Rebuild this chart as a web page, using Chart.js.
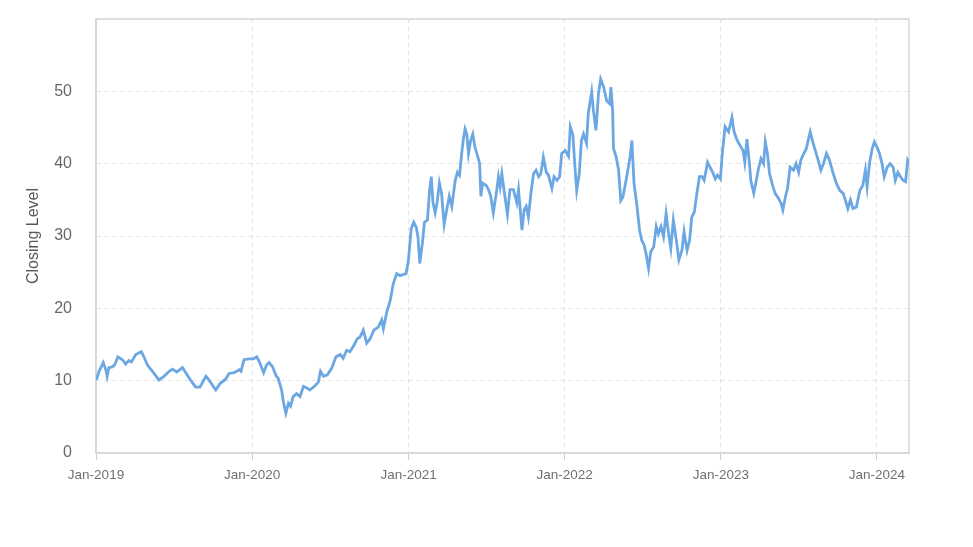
<!DOCTYPE html>
<html>
<head>
<meta charset="utf-8">
<script src="https://cdn.jsdelivr.net/npm/chart.js"></script>
<style>
  body { margin: 0; background: #fff; }
  #wrap { width: 973px; height: 547px; }
</style>
</head>
<body>
<div id="wrap"><canvas id="grafico" width="973" height="547"></canvas></div>
<script>
// datas de fechamento e nivel correspondente
const dates = [
  '2019-01-02','2019-01-08','2019-01-18','2019-01-24','2019-01-27','2019-01-31','2019-02-08','2019-02-14','2019-02-21','2019-03-04',
  '2019-03-11','2019-03-19','2019-03-25','2019-04-04','2019-04-17','2019-04-23','2019-05-01','2019-05-13','2019-05-28','2019-06-09',
  '2019-06-21','2019-06-29','2019-07-09','2019-07-22','2019-07-30','2019-08-11','2019-08-22','2019-09-01','2019-09-15','2019-09-22',
  '2019-10-08','2019-10-18','2019-10-31','2019-11-08','2019-11-20','2019-12-02','2019-12-06','2019-12-13','2019-12-25',
  '2020-01-04','2020-01-12','2020-01-18','2020-01-28','2020-02-04','2020-02-10','2020-02-18','2020-02-26','2020-03-02','2020-03-10',
  '2020-03-14','2020-03-20','2020-03-26','2020-03-31','2020-04-06','2020-04-14','2020-04-22','2020-04-30','2020-05-08','2020-05-15',
  '2020-05-27','2020-06-04','2020-06-09','2020-06-16','2020-06-25','2020-07-05','2020-07-15','2020-07-25','2020-08-01','2020-08-09',
  '2020-08-17','2020-08-26','2020-09-03','2020-09-09','2020-09-17','2020-09-25','2020-10-03','2020-10-12','2020-10-22','2020-10-30',
  '2020-11-03','2020-11-11','2020-11-19','2020-11-26','2020-12-04','2020-12-12','2020-12-20','2020-12-26','2020-12-31',
  '2021-01-02','2021-01-07','2021-01-13','2021-01-19','2021-01-23','2021-01-27','2021-02-02','2021-02-07','2021-02-14','2021-02-19',
  '2021-02-23','2021-02-27','2021-03-04','2021-03-09','2021-03-14','2021-03-19','2021-03-25','2021-03-31','2021-04-06','2021-04-12',
  '2021-04-16','2021-04-20','2021-04-25','2021-04-30','2021-05-05','2021-05-09','2021-05-13','2021-05-17','2021-05-21','2021-05-26',
  '2021-05-31','2021-06-05','2021-06-12','2021-06-16','2021-06-19','2021-06-23','2021-07-01','2021-07-07','2021-07-12','2021-07-18',
  '2021-07-25','2021-07-30','2021-08-03','2021-08-07','2021-08-12','2021-08-20','2021-08-26','2021-09-03','2021-09-11','2021-09-15',
  '2021-09-23','2021-09-28','2021-10-03','2021-10-08','2021-10-14','2021-10-20','2021-10-26','2021-11-01','2021-11-06','2021-11-12',
  '2021-11-19','2021-11-24','2021-12-02','2021-12-07','2021-12-14','2021-12-20','2021-12-25',
  '2022-01-02','2022-01-10','2022-01-14','2022-01-20','2022-01-25','2022-01-29','2022-02-04','2022-02-09','2022-02-14','2022-02-21',
  '2022-02-25','2022-03-05','2022-03-09','2022-03-15','2022-03-21','2022-03-26','2022-04-02','2022-04-09','2022-04-16','2022-04-19',
  '2022-04-23','2022-04-25','2022-05-01','2022-05-07','2022-05-12','2022-05-17','2022-05-26','2022-06-03','2022-06-07','2022-06-12',
  '2022-06-19','2022-06-25','2022-06-30','2022-07-06','2022-07-10','2022-07-16','2022-07-21','2022-07-28','2022-08-03','2022-08-08',
  '2022-08-14','2022-08-20','2022-08-26','2022-09-01','2022-09-06','2022-09-12','2022-09-19','2022-09-25','2022-10-02','2022-10-07',
  '2022-10-14','2022-10-20','2022-10-25','2022-10-31','2022-11-06','2022-11-12','2022-11-18','2022-11-23','2022-12-01','2022-12-07',
  '2022-12-13','2022-12-19','2022-12-24','2022-12-31',
  '2023-01-05','2023-01-11','2023-01-19','2023-01-27','2023-02-01','2023-02-07','2023-02-15','2023-02-22','2023-02-26','2023-03-03',
  '2023-03-09','2023-03-12','2023-03-19','2023-03-25','2023-03-30','2023-04-05','2023-04-11','2023-04-15','2023-04-20','2023-04-25',
  '2023-05-03','2023-05-08','2023-05-16','2023-05-22','2023-05-26','2023-06-01','2023-06-06','2023-06-12','2023-06-20','2023-06-26',
  '2023-07-02','2023-07-07','2023-07-14','2023-07-20','2023-07-25','2023-07-29','2023-08-04','2023-08-12','2023-08-18','2023-08-23',
  '2023-08-29','2023-09-05','2023-09-12','2023-09-20','2023-09-28','2023-10-06','2023-10-14','2023-10-19','2023-10-25','2023-10-31',
  '2023-11-06','2023-11-14','2023-11-22','2023-11-29','2023-12-05','2023-12-09','2023-12-15','2023-12-21','2023-12-26',
  '2024-01-01','2024-01-07','2024-01-13','2024-01-18','2024-01-25','2024-02-01','2024-02-08','2024-02-13','2024-02-19','2024-02-25',
  '2024-03-02','2024-03-08','2024-03-13','2024-03-16'
];

const closing = [
  10.1,11.3,12.5,11.5,10.6,11.8,11.9,12.2,13.3,12.9,
  12.3,12.8,12.6,13.6,14.0,13.3,12.2,11.3,10.1,10.6,
  11.3,11.6,11.2,11.8,11.1,10.0,9.1,9.1,10.6,10.1,
  8.7,9.6,10.2,11.0,11.1,11.5,11.3,12.9,13.0,
  13.0,13.3,12.6,11.1,12.2,12.5,11.9,10.7,10.3,8.7,
  7.1,5.5,6.9,6.5,7.8,8.2,7.8,9.2,9.0,8.7,
  9.3,9.8,11.3,10.6,10.8,11.7,13.3,13.6,13.1,14.2,
  14.0,14.9,15.8,16.0,17.0,15.2,15.8,17.0,17.4,18.4,
  17.2,19.5,21.1,23.4,24.8,24.5,24.7,24.8,26.4,
  27.6,31.0,31.9,31.2,29.8,26.2,28.9,31.9,32.2,36.3,
  38.2,34.6,33.2,34.8,37.3,35.9,31.6,33.6,35.5,34.1,
  35.9,37.7,38.8,38.4,41.4,43.4,44.8,44.1,41.4,43.2,
  44.1,42.3,40.9,40.0,35.5,37.3,37.0,36.4,35.5,33.2,
  35.9,38.2,36.8,38.6,36.4,33.0,36.4,36.4,34.6,36.4,
  30.8,33.6,34.1,32.6,35.9,38.6,39.1,38.2,38.6,40.9,
  38.8,38.4,36.6,38.2,37.7,38.2,41.4,
  41.8,41.0,45.1,44.0,39.5,36.3,38.6,43.2,44.1,42.8,
  46.9,49.9,47.4,44.6,49.7,51.7,50.6,48.7,48.3,50.6,
  47.4,42.1,41.0,39.1,34.9,35.4,38.2,41.0,43.2,37.3,
  34.1,30.8,29.4,28.7,27.6,25.5,27.8,28.5,31.3,30.3,
  31.3,29.9,33.1,30.3,28.3,32.2,29.4,26.7,28.0,30.6,
  28.0,29.4,32.6,33.3,35.9,38.2,38.2,37.7,40.2,39.5,
  38.8,37.9,38.4,37.9,
  41.8,45.1,44.4,46.4,44.4,43.4,42.5,41.8,40.2,43.4,
  40.0,37.7,35.9,37.7,39.3,40.7,40.0,43.0,41.4,38.6,
  36.8,35.9,35.2,34.5,33.6,35.4,36.6,39.5,39.1,40.0,
  38.8,40.5,41.4,42.1,43.4,44.4,43.0,41.4,40.2,39.1,
  40.0,41.4,40.5,38.8,37.3,36.3,35.9,35.0,33.8,35.0,
  33.8,34.0,36.3,37.0,39.1,36.8,40.2,42.1,43.0,
  42.3,41.4,40.0,38.2,39.5,40.0,39.5,37.7,38.8,38.2,
  37.7,37.5,40.5,40.2
];

// marcas do eixo x (inicio de cada ano)
const yearTicks = ['2019-01-01','2020-01-01','2021-01-01','2022-01-01','2023-01-01','2024-01-01'];
const yTitle = 'Closing Level';

const DAY = 86400000;
const start = Date.UTC(2019, 0, 1);
const MESES = ['Jan','Feb','Mar','Apr','May','Jun','Jul','Aug','Sep','Oct','Nov','Dec'];

function toDay(s) {
  const p = s.split('-');
  return (Date.UTC(+p[0], p[1] - 1, +p[2]) - start) / DAY;
}

function rotulo(day) {
  const d = new Date(start + day * DAY);
  return MESES[d.getUTCMonth()] + '-' + d.getUTCFullYear();
}

const pontos = dates.map((d, i) => ({ x: toDay(d), y: closing[i] }));

// moldura cinza em volta da area do grafico
const moldura = {
  id: 'moldura',
  beforeDatasetsDraw(chart) {
    const { ctx, chartArea: a } = chart;
    ctx.save();
    ctx.strokeStyle = '#d6d6d6';
    ctx.lineWidth = 1.5;
    ctx.strokeRect(a.left, a.top, a.right - a.left, a.bottom - a.top);
    ctx.restore();
  }
};

const fonte = 'Liberation Sans, Arial, sans-serif';

new Chart(document.getElementById('grafico'), {
  type: 'line',
  data: {
    datasets: [
      {
        label: yTitle,
        data: pontos,
        borderColor: '#6ba7e3',
        borderWidth: 2.8,
        pointRadius: 0,
        tension: 0,
        fill: false,
      },
    ],
  },
  options: {
    responsive: false,
    animation: false,
    layout: { padding: { top: 19, right: 64, left: 0, bottom: 0 } },
    plugins: {
      legend: { display: false },
      tooltip: { enabled: false },
    },
    scales: {
      x: {
        type: 'linear',
        min: 0,
        max: toDay(dates[dates.length - 1]),
        afterBuildTicks(scale) {
          scale.ticks = yearTicks.map((s) => ({ value: toDay(s) }));
        },
        afterFit(scale) {
          scale.height = 94;
        },
        ticks: {
          callback: (v) => rotulo(v),
          autoSkip: false,
          maxRotation: 0,
          padding: 7,
          color: '#707070',
          font: { family: fonte, size: 13.5 },
        },
        grid: { color: '#e2e2e2', tickColor: '#cfcfcf', tickLength: 7 },
        border: { color: '#d6d6d6', width: 1.5, dash: [4, 4] },
      },
      y: {
        min: 0,
        max: 60,
        afterFit(scale) {
          scale.width = 96;
        },
        ticks: {
          stepSize: 10,
          padding: 0,
          color: '#666',
          callback: (v) => (v === 60 ? '' : v),
          font: { family: fonte, size: 16 },
        },
        // marcas invisiveis so para afastar os numeros do eixo
        grid: { color: '#e2e2e2', drawTicks: true, tickLength: 24, tickColor: 'rgba(0,0,0,0)' },
        border: { color: '#d6d6d6', width: 1.5, dash: [4, 4] },
        title: {
          display: true,
          text: yTitle,
          color: '#595959',
          font: { family: fonte, size: 16 },
          padding: { top: 24, bottom: 0 },
        },
      },
    },
  },
  plugins: [moldura],
});
</script>
</body>
</html>
